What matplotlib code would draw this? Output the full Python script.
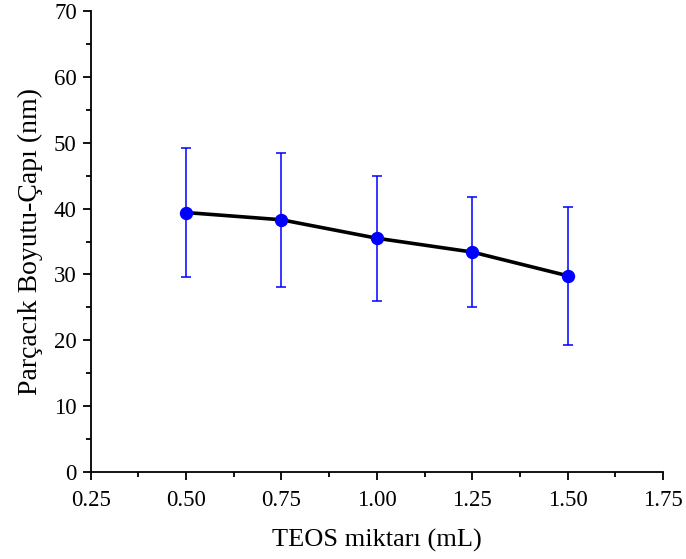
import matplotlib
matplotlib.use("Agg")
import matplotlib.pyplot as plt
from matplotlib.ticker import MultipleLocator, FormatStrFormatter

plt.rcParams["font.family"] = ["Liberation Serif", "DejaVu Serif"]

# data
teos_ml = [0.50, 0.75, 1.00, 1.25, 1.50]
size_nm = [39.4, 38.3, 35.5, 33.4, 29.8]
size_err = [9.8, 10.2, 9.5, 8.4, 10.5]

fig = plt.figure(figsize=(6.86, 5.59), dpi=100)
ax = fig.add_axes([0.1322, 0.1556, 0.8343, 0.8247])

ax.errorbar(teos_ml, size_nm, yerr=size_err, fmt="none", ecolor="#0000ff",
            elinewidth=1.1, capsize=3.5, capthick=1.1, zorder=2)
ax.plot(teos_ml, size_nm, color="black", linewidth=2.6, zorder=3)
ax.plot(teos_ml, size_nm, "o", color="#0000ff", markersize=8.6, zorder=4)

ax.set_xlim(0.25, 1.75)
ax.set_ylim(0, 70)
ax.xaxis.set_major_locator(MultipleLocator(0.25))
ax.xaxis.set_minor_locator(MultipleLocator(0.125))
ax.xaxis.set_major_formatter(FormatStrFormatter("%.2f"))
ax.yaxis.set_major_locator(MultipleLocator(10))
ax.yaxis.set_minor_locator(MultipleLocator(5))

for side in ["top", "right"]:
    ax.spines[side].set_visible(False)
for side in ["left", "bottom"]:
    ax.spines[side].set_linewidth(1.3)

ax.tick_params(which="major", direction="out", length=6, width=1.3, labelsize=16.5, pad=4)
ax.tick_params(axis="x", which="major", pad=7)
ax.tick_params(which="minor", direction="out", length=3.5, width=1.3)

ax.set_xlabel("TEOS miktarı (mL)", fontsize=19, labelpad=13)
ax.set_ylabel("Parçacık Boyutu-Çapı (nm)", fontsize=20, labelpad=8)

fig.savefig("out.png", dpi=100)
